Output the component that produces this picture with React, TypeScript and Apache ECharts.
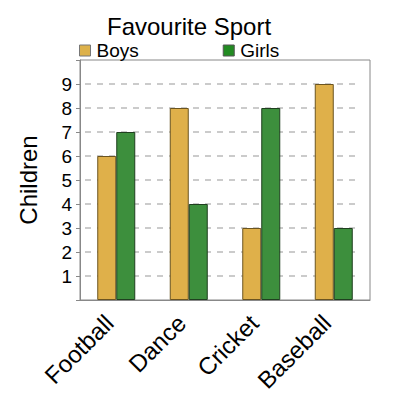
import { useEffect, useRef } from 'react'
import * as echarts from 'echarts'

const sports = ['Football', 'Dance', 'Cricket', 'Baseball']
const boys = [6, 8, 3, 9]
const girls = [7, 4, 8, 3]

const FONT = '"Liberation Sans", Arial, sans-serif'

export default function App() {
  const chartRef = useRef<HTMLDivElement>(null)

  useEffect(() => {
    if (!chartRef.current) return
    const chart = echarts.init(chartRef.current, null, { renderer: 'svg' })

    const option: echarts.EChartsOption = {
      animation: false,
      backgroundColor: '#fff',
      textStyle: { fontFamily: FONT },
      title: {
        text: 'Favourite Sport',
        left: 184,
        textAlign: 'center',
        top: 9,
        textStyle: { fontSize: 24, fontWeight: 'normal', color: '#000', fontFamily: FONT },
      },
      legend: {
        left: 79,
        top: 41,
        padding: 0,
        itemWidth: 11,
        itemHeight: 11,
        itemGap: 84,
        icon: 'rect',
        textStyle: { fontSize: 19, color: '#000', fontFamily: FONT, padding: [0, 0, 0, 1] },
        data: [
          { name: 'Boys', itemStyle: { color: '#DDB14A', borderColor: '#777', borderWidth: 1 } },
          { name: 'Girls', itemStyle: { color: '#228B22', borderColor: '#555', borderWidth: 1 } },
        ],
      },
      grid: [
        { left: 80, right: 30, top: 60, bottom: 100, show: true, borderColor: '#888', borderWidth: 1 },
        { left: 85, right: 40, top: 60, bottom: 100 },
      ],
      xAxis: [
        {
          type: 'category',
          data: sports,
          gridIndex: 0,
          axisLine: { lineStyle: { color: '#888' } },
          axisTick: { show: false },
          axisLabel: {
            rotate: 45,
            fontSize: 24,
            color: '#000',
            margin: 12,
            padding: [0, 10, 0, 0],
            fontFamily: FONT,
          },
        },
        {
          type: 'category',
          data: sports,
          gridIndex: 1,
          show: false,
        },
      ],
      yAxis: [
        {
          type: 'value',
          gridIndex: 0,
          min: 0,
          max: 10,
          interval: 1,
          name: 'Children',
          nameLocation: 'middle',
          nameGap: 40,
          nameTextStyle: { fontSize: 24, color: '#000', fontFamily: FONT },
          axisLine: { show: true, lineStyle: { color: '#888' } },
          axisTick: { show: true, length: 4, lineStyle: { color: '#888' } },
          axisLabel: {
            fontSize: 19,
            color: '#000',
            margin: 8,
            fontFamily: FONT,
            formatter: (v: number) => (v === 0 || v === 10 ? '' : String(v)),
          },
          splitLine: { show: false },
        },
        {
          type: 'value',
          gridIndex: 1,
          min: 0,
          max: 10,
          interval: 1,
          axisLine: { show: false },
          axisTick: { show: false },
          axisLabel: { show: false },
          splitLine: {
            show: true,
            showMinLine: false,
            showMaxLine: false,
            lineStyle: { color: '#bbb', width: 1.5, type: [6, 6] },
          },
        },
      ],
      series: [
        {
          name: 'Boys',
          type: 'bar',
          data: boys,
          barWidth: 19,
          barGap: '0%',
          itemStyle: { color: '#DFB04A', borderColor: '#6b5420', borderWidth: 1 },
        },
        {
          name: 'Girls',
          type: 'bar',
          data: girls,
          barWidth: 19,
          barGap: '0%',
          itemStyle: { color: '#3D8F3D', borderColor: '#1f3f1f', borderWidth: 1 },
        },
      ],
    }

    chart.setOption(option)
    return () => chart.dispose()
  }, [])

  return <div ref={chartRef} style={{ width: 400, height: 400, margin: -8 }} />
}
